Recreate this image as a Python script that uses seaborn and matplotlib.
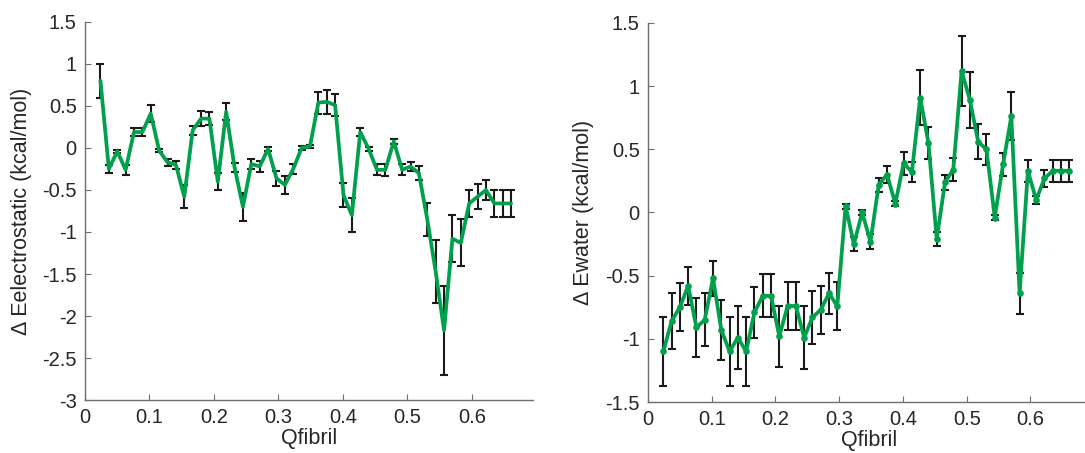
import numpy as np
import pandas as pd
import matplotlib
matplotlib.use("Agg")
import matplotlib.pyplot as plt
import seaborn as sns

# Q fibril bin centres
qfibril = [0.024, 0.037, 0.050, 0.063, 0.076, 0.089, 0.102, 0.115, 0.128, 0.141,
           0.154, 0.167, 0.180, 0.193, 0.206, 0.219, 0.232, 0.245, 0.258, 0.271,
           0.284, 0.297, 0.310, 0.323, 0.336, 0.349, 0.362, 0.375, 0.388, 0.401,
           0.414, 0.427, 0.440, 0.453, 0.466, 0.479, 0.492, 0.505, 0.518, 0.531,
           0.544, 0.557, 0.570, 0.583, 0.596, 0.609, 0.622, 0.635, 0.648, 0.661]

# Delta E electrostatic (kcal/mol)
elec_mean = [0.80, -0.25, -0.04, -0.26, 0.19, 0.19, 0.41, -0.03, -0.17, -0.20,
             -0.58, 0.21, 0.35, 0.35, -0.40, 0.43, -0.23, -0.70, -0.19, -0.22,
             -0.01, -0.36, -0.44, -0.25, 0.00, 0.02, 0.54, 0.55, 0.51, -0.56,
             -0.80, 0.19, -0.01, -0.26, -0.26, 0.08, -0.26, -0.22, -0.30, -0.85,
             -1.47, -2.17, -1.08, -1.13, -0.66, -0.58, -0.50, -0.66, -0.66, -0.66]
elec_err = [0.20, 0.05, 0.02, 0.06, 0.05, 0.05, 0.10, 0.02, 0.04, 0.05,
            0.14, 0.05, 0.085, 0.08, 0.10, 0.10, 0.055, 0.17, 0.06, 0.06,
            0.02, 0.09, 0.11, 0.06, 0.02, 0.02, 0.13, 0.14, 0.13, 0.14,
            0.20, 0.05, 0.02, 0.065, 0.07, 0.03, 0.065, 0.055, 0.08, 0.20,
            0.37, 0.53, 0.28, 0.28, 0.16, 0.15, 0.12, 0.16, 0.16, 0.16]

# Delta E water (kcal/mol)
water_mean = [-1.10, -0.86, -0.75, -0.58, -0.91, -0.85, -0.52, -0.93, -1.10, -0.99,
              -1.10, -0.79, -0.66, -0.66, -0.98, -0.74, -0.74, -0.99, -0.83, -0.77,
              -0.64, -0.74, 0.05, -0.25, 0.00, -0.23, 0.22, 0.30, 0.07, 0.39,
              0.32, 0.91, 0.55, -0.21, 0.24, 0.34, 1.12, 0.89, 0.56, 0.50,
              -0.04, 0.38, 0.76, -0.64, 0.33, 0.10, 0.27, 0.33, 0.33, 0.33]
water_err = [0.27, 0.22, 0.19, 0.15, 0.23, 0.21, 0.14, 0.24, 0.27, 0.25,
             0.27, 0.20, 0.17, 0.17, 0.24, 0.19, 0.19, 0.25, 0.21, 0.19,
             0.165, 0.19, 0.02, 0.055, 0.02, 0.06, 0.057, 0.07, 0.02, 0.09,
             0.08, 0.22, 0.13, 0.055, 0.06, 0.09, 0.275, 0.22, 0.14, 0.125,
             0.02, 0.09, 0.19, 0.16, 0.085, 0.03, 0.066, 0.085, 0.085, 0.085]

x_ticks = [0, 0.1, 0.2, 0.3, 0.4, 0.5, 0.6]
x_ticklabels = ["0", "0.1", "0.2", "0.3", "0.4", "0.5", "0.6"]
elec_yticks = [1.5, 1, 0.5, 0, -0.5, -1, -1.5, -2, -2.5, -3]
elec_yticklabels = ["1.5", "1", "0.5", "0", "-0.5", "-1", "-1.5", "-2", "-2.5", "-3"]
water_yticks = [1.5, 1, 0.5, 0, -0.5, -1, -1.5]
water_yticklabels = ["1.5", "1", "0.5", "0", "-0.5", "-1", "-1.5"]

sns.set_theme(style="ticks")
plt.rcParams['font.family'] = ['Liberation Sans', 'DejaVu Sans']
plt.rcParams['axes.unicode_minus'] = False

GREEN = "#00a04c"
TEXT = "#262626"
SPINE = "#6e6e6e"

fig = plt.figure(figsize=(10.85, 4.53), dpi=100)
ax1 = fig.add_axes([85 / 1085, 1 - 400 / 453, 448 / 1085, 378 / 453])
ax2 = fig.add_axes([648 / 1085, 1 - 402 / 453, 443 / 1085, 379 / 453])

df_e = pd.DataFrame({"Qfibril": qfibril, "val": elec_mean, "err": elec_err})
df_w = pd.DataFrame({"Qfibril": qfibril, "val": water_mean, "err": water_err})

# left panel
ax1.errorbar(df_e["Qfibril"], df_e["val"], yerr=df_e["err"], fmt="none",
             ecolor="#1a1a1a", elinewidth=1.5, capsize=2.8, capthick=1.5, zorder=2)
sns.lineplot(data=df_e, x="Qfibril", y="val", ax=ax1, color=GREEN,
             linewidth=2.7, zorder=3, errorbar=None)

# right panel
ax2.errorbar(df_w["Qfibril"], df_w["val"], yerr=df_w["err"], fmt="none",
             ecolor="#1a1a1a", elinewidth=1.5, capsize=2.8, capthick=1.5, zorder=2)
sns.lineplot(data=df_w, x="Qfibril", y="val", ax=ax2, color=GREEN,
             linewidth=2.7, marker="o", markersize=4.8, markeredgewidth=0,
             zorder=3, errorbar=None)

for ax, yt, ytl, ylim, ylab in [
        (ax1, elec_yticks, elec_yticklabels, (-3, 1.5), "\u0394 Eelectrostatic (kcal/mol)"),
        (ax2, water_yticks, water_yticklabels, (-1.5, 1.5), "\u0394 Ewater (kcal/mol)")]:
    ax.set_xlim(0, 0.695)
    ax.set_ylim(*ylim)
    ax.set_xticks(x_ticks)
    ax.set_xticklabels(x_ticklabels)
    ax.set_yticks(yt)
    ax.set_yticklabels(ytl)
    for s in ["top", "right"]:
        ax.spines[s].set_visible(False)
    for s in ["left", "bottom"]:
        ax.spines[s].set_color(SPINE)
        ax.spines[s].set_linewidth(1.0)
    ax.tick_params(direction="in", length=4, width=0.8, color=SPINE,
                   labelsize=14.5, labelcolor=TEXT, pad=6)
    ax.set_xlabel("Qfibril", fontsize=15.5, color=TEXT)
    ax.set_ylabel(ylab, fontsize=15.5, color=TEXT)
    ax.xaxis.set_label_coords(0.5, -0.075)
    ax.grid(False)

ax1.yaxis.set_label_coords(-0.118, 0.5)
ax2.yaxis.set_label_coords(-0.122, 0.5)

fig.savefig("out.png", dpi=100)
